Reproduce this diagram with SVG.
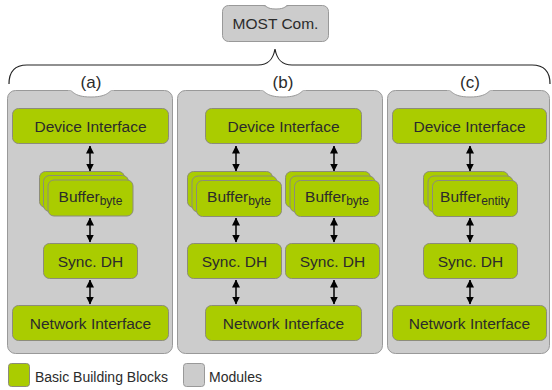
<svg xmlns="http://www.w3.org/2000/svg" width="552" height="390" viewBox="0 0 552 390">
<defs>
<marker id="ah" viewBox="0 0 8 9" refX="7.5" refY="4.5" markerWidth="8" markerHeight="9" markerUnits="userSpaceOnUse" orient="auto-start-reverse">
<path d="M0,0.5 L8,4.5 L0,8.5 Z" fill="#000"/>
</marker>
<style>
.mod{fill:#cccccc;stroke:#999999;stroke-width:1}
.blk{fill:#aacc00;stroke:#8c8c7a;stroke-width:1}
.t{font-family:"Liberation Sans",Arial,sans-serif;font-size:15.5px;fill:#2b2b2b;text-anchor:middle}
.sub{font-size:12px}
.lbl{font-family:"Liberation Sans",Arial,sans-serif;font-size:17px;fill:#2b2b2b;text-anchor:middle}
.lg{font-family:"Liberation Sans",Arial,sans-serif;font-size:14px;fill:#2b2b2b}
.tab{fill:#ffffff;stroke:#999999;stroke-width:1}
.arr{stroke:#000;stroke-width:1.5;fill:none;marker-start:url(#ah);marker-end:url(#ah)}
</style>
</defs>
<rect width="552" height="390" fill="#ffffff"/>

<g id="most">
<rect class="mod" x="222.5" y="5.5" width="106" height="36" rx="6"/>
<path d="M263,4.5 C267,4.5 266,9 276,9 C286,9 285,4.5 289,4.5 L289,0 L263,0 Z" fill="#ffffff"/>
<path d="M263,5.5 C267,5.5 266,9 276,9 C286,9 285,5.5 289,5.5" fill="none" stroke="#999999"/>
<text class="t" x="275.5" y="29">MOST Com.</text>
</g>

<g id="brace">
<path d="M9,84 C9,72 15,65 27,65 L258,65 C268,65 273,60 275,49 C277,60 282,65 292,65 L532,65 C544,65 550,72 550,84" fill="none" stroke="#222" stroke-width="1.2"/>
</g>

<g id="module-a">
<rect class="mod" x="7.5" y="90.5" width="165" height="263" rx="8"/>
<path class="tab" d="M68,89.5 C73,89.5 72,97 91,97 C110,97 109,89.5 114,89.5 Z"/>
<path d="M68,89.5 L114,89.5" stroke="#ffffff" stroke-width="1.5"/>
<text class="lbl" x="91" y="88">(a)</text>
</g>
<g id="module-b">
<rect class="mod" x="177.5" y="90.5" width="205" height="263" rx="8"/>
<path class="tab" d="M260,89.5 C265,89.5 264,97 283,97 C302,97 301,89.5 306,89.5 Z"/>
<path d="M260,89.5 L306,89.5" stroke="#ffffff" stroke-width="1.5"/>
<text class="lbl" x="283" y="88">(b)</text>
</g>
<g id="module-c">
<rect class="mod" x="387.5" y="90.5" width="162" height="263" rx="8"/>
<path class="tab" d="M447,89.5 C452,89.5 451,97 470,97 C489,97 488,89.5 493,89.5 Z"/>
<path d="M447,89.5 L493,89.5" stroke="#ffffff" stroke-width="1.5"/>
<text class="lbl" x="470" y="88">(c)</text>
</g>

<g id="a-device"><rect class="blk" x="12.5" y="108.5" width="156" height="35" rx="6"/><text class="t" x="90.5" y="132">Device Interface</text></g>
<g id="a-buffer">
<rect class="blk" x="39.5" y="171.5" width="85" height="36" rx="6"/>
<rect class="blk" x="43.5" y="175.5" width="85" height="36" rx="6"/>
<rect class="blk" x="48" y="180" width="85" height="36" rx="6"/>
<text class="t" x="90.5" y="202">Buffer<tspan class="sub" dy="3">byte</tspan></text>
</g>
<g id="a-sync"><rect class="blk" x="43.5" y="243.5" width="94" height="35" rx="6"/><text class="t" x="90.5" y="267">Sync. DH</text></g>
<g id="a-network"><rect class="blk" x="12.5" y="305.5" width="156" height="35" rx="6"/><text class="t" x="90.5" y="329">Network Interface</text></g>

<g id="b-device"><rect class="blk" x="205.5" y="108.5" width="156" height="35" rx="6"/><text class="t" x="283.5" y="132">Device Interface</text></g>
<g id="b-buffer1">
<rect class="blk" x="187.5" y="171.5" width="85" height="36" rx="6"/>
<rect class="blk" x="192" y="176" width="85" height="36" rx="6"/>
<rect class="blk" x="196.5" y="180.5" width="85" height="36" rx="6"/>
<text class="t" x="239" y="202">Buffer<tspan class="sub" dy="3">byte</tspan></text>
</g>
<g id="b-buffer2">
<rect class="blk" x="285.5" y="171.5" width="85" height="36" rx="6"/>
<rect class="blk" x="290" y="176" width="85" height="36" rx="6"/>
<rect class="blk" x="294.5" y="180.5" width="85" height="36" rx="6"/>
<text class="t" x="337" y="202">Buffer<tspan class="sub" dy="3">byte</tspan></text>
</g>
<g id="b-sync1"><rect class="blk" x="187.5" y="243.5" width="94" height="35" rx="6"/><text class="t" x="234.5" y="267">Sync. DH</text></g>
<g id="b-sync2"><rect class="blk" x="285.5" y="243.5" width="94" height="35" rx="6"/><text class="t" x="332.5" y="267">Sync. DH</text></g>
<g id="b-network"><rect class="blk" x="205.5" y="305.5" width="156" height="35" rx="6"/><text class="t" x="283.5" y="329">Network Interface</text></g>

<g id="c-device"><rect class="blk" x="392.5" y="108.5" width="154" height="35" rx="6"/><text class="t" x="469.5" y="132">Device Interface</text></g>
<g id="c-buffer">
<rect class="blk" x="423.5" y="171.5" width="85" height="36" rx="6"/>
<rect class="blk" x="428" y="176" width="85" height="36" rx="6"/>
<rect class="blk" x="432.5" y="180.5" width="85" height="36" rx="6"/>
<text class="t" x="475" y="202">Buffer<tspan class="sub" dy="3">entity</tspan></text>
</g>
<g id="c-sync"><rect class="blk" x="423.5" y="243.5" width="94" height="35" rx="6"/><text class="t" x="470.5" y="267">Sync. DH</text></g>
<g id="c-network"><rect class="blk" x="392.5" y="305.5" width="154" height="35" rx="6"/><text class="t" x="469.5" y="329">Network Interface</text></g>

<g id="connectors">
<line class="arr" x1="90" y1="146" x2="90" y2="171"/>
<line class="arr" x1="90" y1="218" x2="90" y2="242"/>
<line class="arr" x1="90" y1="280" x2="90" y2="304"/>
<line class="arr" x1="236" y1="146" x2="236" y2="171"/>
<line class="arr" x1="236" y1="218" x2="236" y2="242"/>
<line class="arr" x1="236" y1="280" x2="236" y2="304"/>
<line class="arr" x1="334" y1="146" x2="334" y2="171"/>
<line class="arr" x1="334" y1="218" x2="334" y2="242"/>
<line class="arr" x1="334" y1="280" x2="334" y2="304"/>
<line class="arr" x1="470" y1="146" x2="470" y2="171"/>
<line class="arr" x1="470" y1="218" x2="470" y2="242"/>
<line class="arr" x1="470" y1="280" x2="470" y2="304"/>
</g>

<g id="legend">
<rect class="blk" x="8.5" y="363.5" width="21" height="23" rx="3"/>
<text class="lg" x="35" y="382">Basic Building Blocks</text>
<rect class="mod" x="183.5" y="363.5" width="21" height="23" rx="3"/>
<text class="lg" x="209" y="382">Modules</text>
</g>
</svg>
